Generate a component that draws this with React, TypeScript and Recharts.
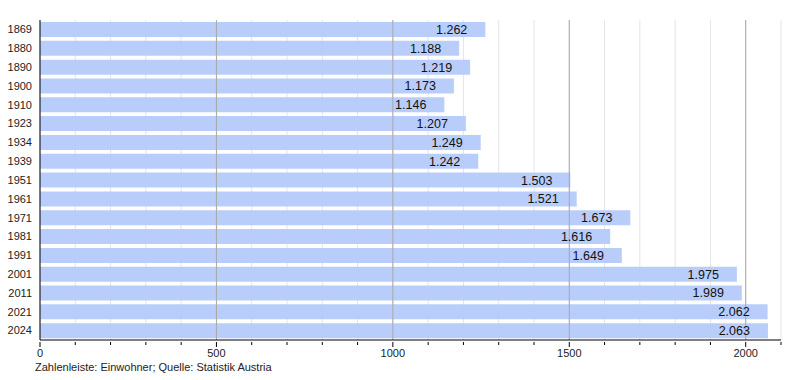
import { BarChart, Bar, XAxis, YAxis, CartesianGrid, ReferenceLine, LabelList } from 'recharts';

const years = ['1869', '1880', '1890', '1900', '1910', '1923', '1934', '1939', '1951', '1961', '1971', '1981', '1991', '2001', '2011', '2021', '2024'];
const population = [1262, 1188, 1219, 1173, 1146, 1207, 1249, 1242, 1503, 1521, 1673, 1616, 1649, 1975, 1989, 2062, 2063];
const xTicks = [0, 100, 200, 300, 400, 500, 600, 700, 800, 900, 1000, 1100, 1200, 1300, 1400, 1500, 1600, 1700, 1800, 1900, 2000, 2100];
const majorTicks = [500, 1000, 1500, 2000];

const data = years.map((year, i) => ({ year, value: population[i] }));

const font = 'Liberation Sans, Arial, sans-serif';

const formatGerman = (v: number) => {
  const s = String(v);
  return s.length > 3 ? s.slice(0, s.length - 3) + '.' + s.slice(-3) : s;
};

// minor ticks short, labelled ticks a bit longer
const XTick = (props: any) => {
  const { x, y, payload } = props;
  const major = payload.value % 500 === 0;
  return (
    <g>
      <line x1={x} x2={x} y1={y} y2={y + (major ? 5 : 3)} stroke="#000" />
      {major && (
        <text x={x} y={y + 15} textAnchor="middle" fill="#222" fontSize={11} fontFamily={font}>
          {payload.value}
        </text>
      )}
    </g>
  );
};

const App = () => {
  return (
    <div style={{ position: 'absolute', left: 0, top: 0, width: 800, height: 380, background: '#fff', fontFamily: font }}>
      <BarChart
        width={800}
        height={380}
        data={data}
        layout="vertical"
        margin={{ top: 20, right: 19, left: 5, bottom: 20 }}
        barSize={15}
      >
        <CartesianGrid horizontal={false} stroke="#e4e4e4" />
        <XAxis
          type="number"
          domain={[0, 2100]}
          ticks={xTicks}
          interval={0}
          tick={<XTick />}
          tickLine={false}
          tickSize={0}
          axisLine={{ stroke: '#000' }}
          height={20}
        />
        <YAxis
          type="category"
          dataKey="year"
          width={35}
          tick={{ fill: '#222', fontSize: 11, fontFamily: font }}
          tickLine={false}
          tickMargin={2}
          axisLine={{ stroke: '#000' }}
        />
        {majorTicks.map((t) => (
          <ReferenceLine key={t} x={t} stroke="#a8a8a8" />
        ))}
        <Bar dataKey="value" fill="#b5cafa" fillOpacity={0.95} isAnimationActive={false}>
          <LabelList
            dataKey="value"
            position="insideRight"
            offset={18}
            formatter={(v: number) => formatGerman(v)}
            style={{ fill: '#111', fontSize: 12.5, fontFamily: font }}
          />
        </Bar>
      </BarChart>
      <div style={{ position: 'absolute', left: 35, top: 361, fontSize: 11, color: '#222', fontFamily: font }}>
        Zahlenleiste: Einwohner; Quelle: Statistik Austria
      </div>
    </div>
  );
};

export default App;
